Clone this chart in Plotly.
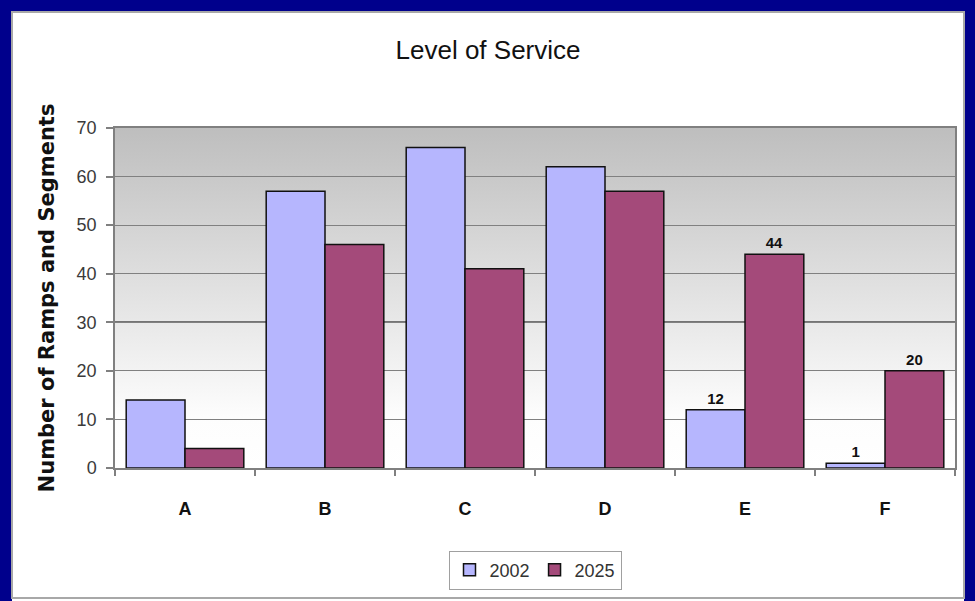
import base64
import plotly.graph_objects as go

categories = ["A", "B", "C", "D", "E", "F"]
values_2002 = [14, 57, 66, 62, 12, 1]
values_2025 = [4, 46, 41, 57, 44, 20]
labelled = ["E", "F"]
y_ticks = [0, 10, 20, 30, 40, 50, 60, 70]
threshold = 30

SANS = "Liberation Sans, Arial, sans-serif"
WIDE = "DejaVu Sans, Verdana, sans-serif"

W, H = 975, 601
ML, MR, MT, MB = 115, 20, 128, 133
PW, PH = W - ML - MR, H - MT - MB


def px_x(p):
    return (p - ML) / PW


def px_y(p):
    return (H - MB - p) / PH


xs = list(range(len(categories)))


def labels(vals):
    return [str(v) if c in labelled else "" for c, v in zip(categories, vals)]


fig = go.Figure()
fig.add_trace(go.Bar(
    name="2002", x=xs, y=values_2002,
    marker=dict(color="#b6b6fe", line=dict(color="#111111", width=1.5)),
    text=labels(values_2002), textposition="outside",
    textfont=dict(family=SANS, size=15, color="#111111", weight="bold"),
    cliponaxis=False,
))
fig.add_trace(go.Bar(
    name="2025", x=xs, y=values_2025,
    marker=dict(color="#a44a7a", line=dict(color="#111111", width=1.5)),
    text=labels(values_2025), textposition="outside",
    textfont=dict(family=SANS, size=15, color="#111111", weight="bold"),
    cliponaxis=False,
))

svg = ('<svg xmlns="http://www.w3.org/2000/svg" width="100" height="100" preserveAspectRatio="none">'
       '<defs><linearGradient id="g" x1="0" y1="0" x2="0" y2="1">'
       '<stop offset="0" stop-color="#bebebe"/><stop offset="0.85" stop-color="#fdfdfd"/>'
       '<stop offset="1" stop-color="#ffffff"/></linearGradient></defs>'
       '<rect width="100" height="100" fill="url(#g)"/></svg>')
src = "data:image/svg+xml;base64," + base64.b64encode(svg.encode()).decode()

navy = "#00008c"
shapes = [
    dict(type="rect", xref="paper", yref="paper", x0=px_x(0), x1=px_x(12), y0=px_y(H), y1=px_y(0),
         fillcolor=navy, line=dict(width=0), layer="below"),
    dict(type="rect", xref="paper", yref="paper", x0=px_x(964), x1=px_x(W), y0=px_y(H), y1=px_y(0),
         fillcolor=navy, line=dict(width=0), layer="below"),
    dict(type="rect", xref="paper", yref="paper", x0=px_x(0), x1=px_x(W), y0=px_y(12), y1=px_y(0),
         fillcolor=navy, line=dict(width=0), layer="below"),
    dict(type="rect", xref="paper", yref="paper", x0=px_x(12), x1=px_x(964), y0=px_y(598), y1=px_y(12),
         fillcolor="rgba(0,0,0,0)", line=dict(width=2, color="#a8a8a8"), layer="below"),
    dict(type="line", xref="paper", yref="y", x0=px_x(108), x1=1, y0=threshold, y1=threshold,
         line=dict(color="#000000", width=1.5), layer="between"),
]

fig.update_layout(
    width=W, height=H,
    margin=dict(l=ML, r=MR, t=MT, b=MB),
    paper_bgcolor="#ffffff",
    plot_bgcolor="rgba(0,0,0,0)",
    barmode="group", bargap=0.16, bargroupgap=0,
    title=dict(text="Level of Service", x=488 / W, xanchor="center", xref="container",
               y=1 - 50 / H, yanchor="middle",
               font=dict(family=SANS, size=26, color="#111111")),
    showlegend=True,
    legend=dict(orientation="h", x=0.5, xanchor="center", y=px_y(570), yanchor="middle",
                bordercolor="#a0a0a0", borderwidth=1, bgcolor="#ffffff",
                font=dict(family=SANS, size=18, color="#333333"),
                itemwidth=30, traceorder="normal"),
    images=[dict(source=src, xref="paper", yref="paper", x=0, y=1, sizex=1, sizey=1,
                 xanchor="left", yanchor="top", sizing="stretch", layer="below")],
    shapes=shapes,
    xaxis=dict(range=[-0.5, len(categories) - 0.5], tickvals=xs, ticktext=categories,
               ticks="", showgrid=False, zeroline=False,
               showline=True, linecolor="#808080", linewidth=1.5, mirror=True,
               ticklabelstandoff=24,
               tickfont=dict(family=SANS, size=18, color="#111111", weight="bold"),
               minor=dict(tickvals=[i - 0.5 for i in range(len(categories) + 1)],
                          ticks="outside", ticklen=6, tickcolor="#808080", tickwidth=1.5,
                          showgrid=False)),
    yaxis=dict(range=[0, 70], tickvals=y_ticks, ticks="outside", ticklen=7,
               tickcolor="#808080", tickwidth=1.5, ticklabelstandoff=6,
               showgrid=True, gridcolor="#808080", gridwidth=1, zeroline=False,
               showline=True, linecolor="#808080", linewidth=1.5, mirror=True,
               tickfont=dict(family=SANS, size=18, color="#3a3a3a"),
               title=dict(text="Number of Ramps and Segments", standoff=16,
                          font=dict(family=WIDE, size=21, color="#111111", weight="bold"))),
)

fig.write_html("out.html", config={"displayModeBar": False},
               post_script="document.body.style.margin='0';document.body.style.overflow='hidden';")
